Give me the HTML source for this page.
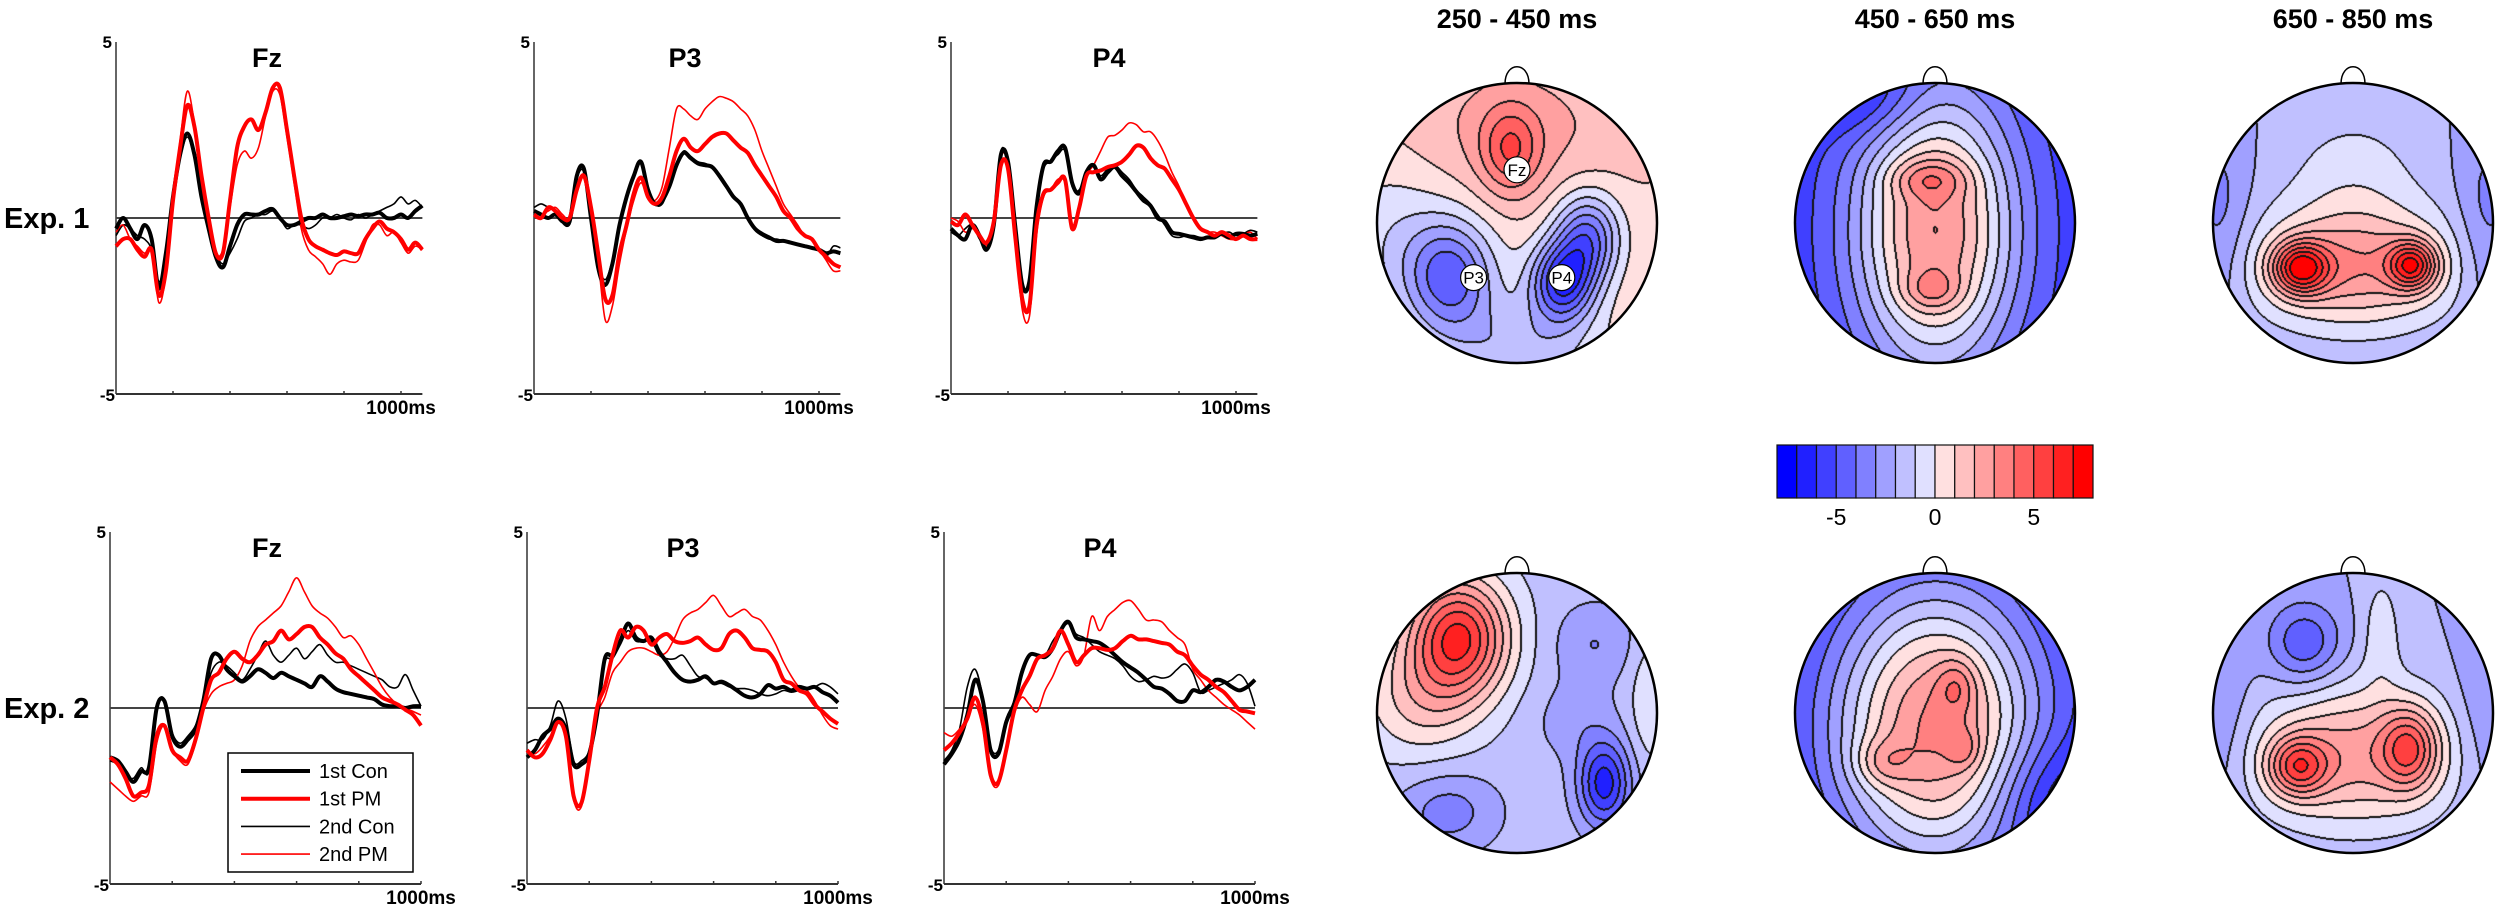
<!DOCTYPE html>
<html><head><meta charset="utf-8">
<style>
html,body{margin:0;padding:0;background:#fff;}
#wrap{position:relative;width:2500px;height:907px;overflow:hidden;background:#fff;}
svg{position:absolute;left:0;top:0;}
canvas{position:absolute;}
.t{font-family:"Liberation Sans Narrow","Liberation Sans",sans-serif;font-weight:bold;fill:#000;}
</style></head>
<body>
<div id="wrap">
<svg id="erp" width="2500" height="907"></svg>
</div>
<script>
// ---------- ERP data (µV), sampled every 25 ms ----------
const timesTop = [];  for (let t = 0; t <= 1075; t += 25) timesTop.push(t);
const timesBot = [];  for (let t = 0; t <= 1000; t += 25) timesBot.push(t);

const fzTopCon1 = [-0.3,0.0,-0.3,-0.6,-0.2,-0.6,-2.0,-1.0,0.6,1.8,2.4,1.8,0.6,-0.3,-1.1,-1.4,-0.8,-0.2,0.1,0.1,0.1,0.2,0.25,0.0,-0.2,-0.2,-0.1,0.0,0.0,0.1,0.0,0.0,0.05,0.1,0.05,0.1,0.1,0.15,0.0,0.0,0.1,0.0,0.2,0.35];
const fzTopCon2 = [-0.5,-0.2,-0.3,-0.5,-0.6,-0.9,-1.8,-1.2,0.5,1.7,2.3,1.7,0.5,-0.3,-1.0,-1.3,-1.0,-0.6,-0.1,0.0,0.1,0.1,0.2,0.0,-0.3,-0.2,-0.2,-0.3,-0.2,0.0,0.0,0.1,0.0,-0.05,0.1,0.0,0.1,0.2,0.3,0.4,0.6,0.4,0.5,0.3];
const fzTopPM1 = [-0.8,-0.6,-0.6,-0.9,-1.1,-0.9,-2.2,-1.5,0.5,2.0,3.2,2.6,1.2,0.0,-1.0,-1.0,0.5,2.0,2.6,2.8,2.5,3.0,3.7,3.7,2.5,1.2,0.0,-0.6,-0.8,-0.9,-1.0,-1.05,-0.95,-1.0,-1.0,-0.6,-0.3,-0.1,-0.3,-0.4,-0.6,-0.9,-0.7,-0.9];
const fzTopPM2 = [-0.4,-0.2,-0.6,-0.8,-1.0,-0.9,-2.4,-1.6,0.6,2.2,3.6,2.7,1.2,0.0,-1.0,-0.9,0.3,1.5,1.9,1.7,2.0,2.9,3.6,3.5,2.3,1.0,-0.3,-0.9,-1.1,-1.3,-1.6,-1.3,-1.2,-1.25,-1.2,-0.7,-0.2,-0.2,-0.5,-0.4,-0.7,-1.0,-0.8,-0.9];

const p3TopCon1 = [0.2,0.1,0.0,0.1,-0.1,-0.1,1.2,1.4,0.0,-1.4,-1.9,-1.3,-0.2,0.6,1.2,1.6,0.8,0.4,0.5,0.9,1.5,1.85,1.7,1.55,1.5,1.45,1.2,0.9,0.6,0.4,0.0,-0.3,-0.45,-0.55,-0.65,-0.65,-0.7,-0.75,-0.8,-0.85,-0.9,-1.0,-0.95,-1.0];
const p3TopCon2 = [0.3,0.4,0.3,0.2,0.0,-0.1,1.1,1.3,0.0,-1.3,-1.75,-1.2,-0.2,0.6,1.2,1.6,0.9,0.4,0.4,0.9,1.5,1.9,1.75,1.6,1.55,1.45,1.25,0.95,0.6,0.35,0.0,-0.35,-0.5,-0.6,-0.6,-0.65,-0.7,-0.75,-0.8,-0.85,-0.9,-1.1,-0.8,-0.85];
const p3TopPM1 = [0.1,0.0,0.3,0.2,0.0,0.0,0.8,1.2,0.3,-1.0,-2.3,-2.2,-1.0,-0.2,0.7,1.15,0.6,0.4,0.6,1.2,1.9,2.25,2.0,1.9,2.1,2.3,2.4,2.4,2.2,2.0,1.85,1.5,1.2,0.9,0.6,0.2,0.0,-0.3,-0.5,-0.6,-0.9,-1.1,-1.3,-1.4];
const p3TopPM2 = [0.2,0.1,0.2,0.3,0.1,0.0,0.9,1.2,0.2,-1.2,-2.9,-2.5,-1.3,-0.3,0.5,1.0,0.6,0.5,0.9,2.0,3.1,3.1,2.9,2.8,3.1,3.3,3.45,3.4,3.3,3.1,2.9,2.5,1.9,1.4,0.9,0.4,0.1,-0.2,-0.5,-0.6,-0.9,-1.2,-1.5,-1.5];

const p4TopCon1 = [-0.3,-0.5,-0.6,-0.2,-0.5,-0.9,-0.2,1.8,1.6,-0.2,-1.9,-1.8,0.3,1.5,1.6,1.9,2.0,1.0,0.7,1.3,1.5,1.1,1.3,1.45,1.2,1.0,0.75,0.5,0.35,0.0,-0.1,-0.4,-0.45,-0.5,-0.55,-0.6,-0.55,-0.55,-0.45,-0.55,-0.45,-0.45,-0.5,-0.45];
const p4TopCon2 = [-0.4,-0.5,-0.3,-0.2,-0.6,-0.8,-0.1,1.9,1.5,-0.3,-1.9,-1.7,0.3,1.4,1.6,1.8,1.9,0.9,0.8,1.3,1.5,1.2,1.4,1.5,1.3,1.1,0.8,0.6,0.4,0.1,-0.2,-0.5,-0.55,-0.5,-0.5,-0.55,-0.55,-0.5,-0.45,-0.4,-0.5,-0.45,-0.35,-0.4];
const p4TopPM1 = [-0.1,-0.2,0.1,-0.2,-0.5,-0.7,-0.1,1.5,1.4,-0.5,-2.3,-2.5,-0.2,0.7,0.8,1.0,1.1,-0.3,0.3,1.2,1.3,1.35,1.45,1.5,1.6,1.8,2.05,2.0,1.7,1.5,1.4,1.1,0.8,0.4,0.0,-0.3,-0.4,-0.5,-0.4,-0.5,-0.6,-0.5,-0.6,-0.6];
const p4TopPM2 = [0.0,-0.1,-0.4,-0.3,-0.5,-0.8,-0.2,1.7,1.5,-0.6,-2.6,-2.8,-0.5,0.6,0.8,1.1,1.0,-0.2,0.4,1.2,1.5,1.9,2.3,2.35,2.5,2.7,2.65,2.45,2.45,2.2,1.8,1.3,0.9,0.4,0.0,-0.3,-0.4,-0.4,-0.5,-0.6,-0.6,-0.5,-0.4,-0.6];

const fzBotCon1 = [-1.4,-1.5,-1.8,-2.1,-1.8,-1.7,0.0,0.2,-0.8,-1.1,-0.9,-0.6,0.2,1.4,1.5,1.1,0.9,0.75,0.9,1.1,1.0,0.85,1.0,0.9,0.8,0.7,0.6,0.9,0.75,0.55,0.45,0.4,0.35,0.3,0.25,0.1,0.05,0.05,0.0,0.05,0.05];
const fzBotCon2 = [-1.5,-1.6,-1.9,-2.0,-1.7,-1.8,0.0,0.25,-0.7,-1.0,-0.8,-0.5,0.1,1.0,1.3,1.2,1.0,0.8,1.1,1.5,1.9,1.5,1.3,1.5,1.7,1.4,1.6,1.8,1.5,1.3,1.3,1.2,1.1,1.0,0.9,0.8,0.6,0.6,0.95,0.5,0.05];
const fzBotPM1 = [-1.4,-1.6,-2.0,-2.5,-2.4,-2.2,-0.8,-0.5,-1.2,-1.4,-1.5,-0.9,0.0,0.8,1.0,1.4,1.6,1.4,1.3,1.5,1.8,1.9,2.2,1.95,2.1,2.3,2.3,2.0,1.8,1.55,1.4,1.1,0.9,0.7,0.5,0.3,0.2,0.1,-0.05,-0.2,-0.5];
const fzBotPM2 = [-2.1,-2.3,-2.5,-2.65,-2.5,-2.4,-1.0,-0.5,-1.2,-1.5,-1.6,-1.0,-0.1,0.4,0.6,0.7,0.8,1.2,1.9,2.3,2.5,2.7,2.9,3.3,3.7,3.3,2.9,2.7,2.55,2.3,2.0,2.05,1.8,1.4,1.0,0.6,0.3,0.1,0.0,-0.1,-0.2];

const p3BotCon1 = [-1.4,-1.2,-0.8,-0.6,-0.3,-0.6,-1.6,-1.6,-1.3,-0.2,1.4,1.5,1.9,2.4,2.0,1.9,2.0,1.6,1.3,1.0,0.8,0.75,0.8,0.9,0.7,0.75,0.65,0.5,0.35,0.3,0.4,0.65,0.55,0.6,0.5,0.6,0.55,0.6,0.45,0.35,0.15];
const p3BotCon2 = [-1.0,-0.9,-0.9,-0.5,0.2,-0.3,-1.5,-1.5,-1.2,-0.1,1.3,1.4,1.8,2.2,1.9,1.9,1.9,1.5,1.4,1.4,1.5,1.2,0.9,0.85,0.7,0.7,0.6,0.55,0.55,0.5,0.4,0.35,0.4,0.5,0.45,0.5,0.55,0.6,0.7,0.6,0.4];
const p3BotPM1 = [-1.2,-1.4,-1.3,-0.9,-0.4,-0.8,-2.5,-2.7,-1.5,0.0,0.6,1.5,2.2,2.0,2.3,2.2,1.8,2.0,2.1,1.9,1.85,1.9,2.0,1.8,1.65,1.7,2.1,2.2,2.0,1.7,1.65,1.6,1.3,0.8,0.7,0.5,0.4,0.1,-0.1,-0.3,-0.45];
const p3BotPM2 = [-1.2,-1.3,-1.1,-0.8,-0.4,-0.9,-2.6,-2.8,-1.5,-0.2,0.3,1.0,1.3,1.6,1.7,1.7,1.6,1.5,1.6,2.0,2.5,2.7,2.8,3.0,3.2,2.9,2.6,2.7,2.8,2.6,2.5,2.2,1.8,1.3,0.9,0.6,0.5,0.2,-0.2,-0.5,-0.6];

const p4BotCon1 = [-1.6,-1.3,-0.9,-0.2,0.8,0.2,-1.2,-1.3,-0.4,0.1,1.0,1.5,1.5,1.45,1.7,2.2,2.45,2.0,1.95,1.9,1.85,1.7,1.5,1.3,1.15,1.0,0.8,0.6,0.55,0.4,0.2,0.2,0.5,0.45,0.6,0.8,0.75,0.6,0.5,0.6,0.8];
const p4BotCon2 = [-1.5,-1.2,-0.6,0.6,1.1,0.3,-1.1,-1.2,-0.3,0.2,1.1,1.5,1.5,1.5,1.9,2.2,2.4,2.1,2.0,1.8,1.6,1.5,1.4,1.2,0.9,0.75,0.8,0.9,0.85,0.9,1.1,1.25,1.0,0.45,0.5,0.6,0.7,0.8,0.95,0.7,0.05];
const p4BotPM1 = [-1.2,-1.0,-0.7,-0.3,0.3,-0.4,-1.9,-2.1,-1.2,-0.1,0.5,0.9,1.4,1.5,1.7,2.2,1.8,1.3,1.5,1.7,1.7,1.65,1.7,1.9,2.05,1.95,1.95,1.9,1.85,1.8,1.6,1.5,1.2,0.95,0.8,0.6,0.45,0.2,-0.05,-0.1,-0.15];
const p4BotPM2 = [-0.7,-0.8,-0.6,-0.3,0.1,-0.6,-2.0,-2.2,-1.3,-0.2,0.3,0.1,-0.1,0.5,0.9,1.4,1.6,1.2,1.5,2.6,2.2,2.6,2.8,3.0,3.05,2.8,2.5,2.5,2.45,2.2,2.0,1.8,1.1,0.8,0.5,0.3,0.1,-0.05,-0.2,-0.4,-0.6];

const yTickLabels = ["5", "-5"];
const xTickLabel = "1000ms";
const legendLabels = ["1st Con", "1st PM", "2nd Con", "2nd PM"];

// ---------- topomap data: Gaussian source models (µV) ----------
const mapTitles = ["250 - 450 ms", "450 - 650 ms", "650 - 850 ms"];
const mapBase = [0.8, -6.0, -2.0, -1.5, -6.8, -2.0];
const srcU   = [[0,-0.05,-0.48,0.32,0.5,0,-0.9],[0,-0.05,-0.03,-0.5],[0,-0.38,0.42,0,-0.95,0.95],[-0.42,-0.7,0.62,0.55,-0.5,0.4,0.95],[0,0.15,0.2,-0.38,0.8],[0,-0.4,0.4,-0.35,0.2,-0.95,0.95]];
const srcV   = [[-0.7,-0.52,0.38,0.42,0.1,0.9,0.1],[0.05,-0.32,0.48,-0.9],[0.3,0.32,0.3,-0.4,0,0],[-0.55,-0.1,0.5,-0.5,0.7,0.05,-0.1],[0.1,-0.2,0.25,0.35,0.6],[0.3,0.38,0.25,-0.5,-0.6,0,0]];
const srcAmp = [[1.5,3.2,-5.2,-6.5,-5.0,-2.5,-1.5],[9.0,2.2,2.0,-2.0],[5.0,6.5,6.0,1.3,-1.5,-1.5],[7.5,2.5,-5.0,-1.5,-2.0,-1.0,1.5],[10.0,2.0,1.6,2.0,-2.0],[4.5,5.0,4.5,-3.0,1.5,-1.2,-1.2]];
const srcSU  = [[0.6,0.15,0.22,0.16,0.16,0.4,0.3],[0.42,0.2,0.15,0.3],[0.5,0.14,0.12,0.35,0.15,0.15],[0.25,0.3,0.13,0.2,0.25,0.2,0.1],[0.55,0.1,0.08,0.14,0.3],[0.5,0.15,0.14,0.18,0.1,0.15,0.15]];
const srcSV  = [[0.35,0.22,0.28,0.2,0.22,0.25,0.4],[0.75,0.1,0.1,0.2],[0.3,0.13,0.12,0.3,0.5,0.5],[0.3,0.3,0.22,0.2,0.2,0.2,0.3],[0.75,0.14,0.1,0.12,0.3],[0.35,0.15,0.2,0.2,0.3,0.5,0.5]];
const cbLevels = [-8,-7,-6,-5,-4,-3,-2,-1,0,1,2,3,4,5,6,7];
const cbColors = ["#0000ff","#2020ff","#4040ff","#6060ff","#8080ff","#a0a0ff","#c0c0ff","#e0e0ff","#ffe0e0","#ffc0c0","#ffa0a0","#ff8080","#ff6060","#ff4040","#ff2020","#ff0000"];
const cbTickLabels = ["-5", "0", "5"];
const cbTickValues = [-5, 0, 5];

// ---------- drawing ----------
const NS = "http://www.w3.org/2000/svg";
const svg = document.getElementById('erp');
function mk(tag, attrs, parent) {
  const e = document.createElementNS(NS, tag);
  for (const k in attrs) e.setAttribute(k, attrs[k]);
  (parent || svg).appendChild(e);
  return e;
}
function txt(x, y, s, size, anchor, parent, cls) {
  const e = mk('text', {x: x, y: y, 'font-size': size, 'text-anchor': anchor || 'middle', 'class': cls || 't'}, parent);
  e.textContent = s;
  return e;
}

const panels = [
  {name:'fz-exp1', x0:116, y0:218, k:0.285, tEnd:1075, title:'Fz', tx:267, ty:67, times:timesTop, s:[fzTopCon2,fzTopPM2,fzTopCon1,fzTopPM1]},
  {name:'p3-exp1', x0:534, y0:218, k:0.285, tEnd:1075, title:'P3', tx:685, ty:67, times:timesTop, s:[p3TopCon2,p3TopPM2,p3TopCon1,p3TopPM1]},
  {name:'p4-exp1', x0:951, y0:218, k:0.285, tEnd:1075, title:'P4', tx:1109, ty:67, times:timesTop, s:[p4TopCon2,p4TopPM2,p4TopCon1,p4TopPM1]},
  {name:'fz-exp2', x0:110, y0:708, k:0.311, tEnd:1000, title:'Fz', tx:267, ty:557, times:timesBot, s:[fzBotCon2,fzBotPM2,fzBotCon1,fzBotPM1]},
  {name:'p3-exp2', x0:527, y0:708, k:0.311, tEnd:1000, title:'P3', tx:683, ty:557, times:timesBot, s:[p3BotCon2,p3BotPM2,p3BotCon1,p3BotPM1]},
  {name:'p4-exp2', x0:944, y0:708, k:0.311, tEnd:1000, title:'P4', tx:1100, ty:557, times:timesBot, s:[p4BotCon2,p4BotPM2,p4BotCon1,p4BotPM1]}
];
const seriesStyle = [
  {c:'#000', w:1.6, n:'2nd-con'}, {c:'#ff0000', w:1.6, n:'2nd-pm'},
  {c:'#000', w:4, n:'1st-con'}, {c:'#ff0000', w:4, n:'1st-pm'}
];
const UVPX = 35.2;

function smoothPath(pts) {
  let d = 'M' + pts[0][0].toFixed(1) + ',' + pts[0][1].toFixed(1);
  for (let i = 0; i < pts.length - 1; i++) {
    const p0 = pts[Math.max(0, i - 1)], p1 = pts[i], p2 = pts[i + 1], p3 = pts[Math.min(pts.length - 1, i + 2)];
    const c1x = p1[0] + (p2[0] - p0[0]) / 6, c1y = p1[1] + (p2[1] - p0[1]) / 6;
    const c2x = p2[0] - (p3[0] - p1[0]) / 6, c2y = p2[1] - (p3[1] - p1[1]) / 6;
    d += 'C' + c1x.toFixed(1) + ',' + c1y.toFixed(1) + ' ' + c2x.toFixed(1) + ',' + c2y.toFixed(1) + ' ' + p2[0].toFixed(1) + ',' + p2[1].toFixed(1);
  }
  return d;
}

panels.forEach(p => {
  const g = mk('g', {});
  
  
  const xS = t => p.x0 + t * p.k;
  const yS = v => p.y0 - v * UVPX;
  const xEnd = xS(p.tEnd);
  const yTop = yS(5), yBot = yS(-5);
  const ya = mk('line', {x1:p.x0, y1:yTop, x2:p.x0, y2:yBot, stroke:'#333', 'stroke-width':1.5}, g);
  
  
  const xa = mk('line', {x1:p.x0, y1:yBot, x2:xEnd, y2:yBot, stroke:'#333', 'stroke-width':2}, g);
  
  
  for (let t = 200; t <= 1000; t += 200) {
    const tk = mk('line', {x1:xS(t), y1:yBot - 3, x2:xS(t), y2:yBot, stroke:'#333', 'stroke-width':1.5}, g);
    
    
  }
  const zl = mk('line', {x1:p.x0, y1:p.y0, x2:xEnd, y2:p.y0, stroke:'#444', 'stroke-width':2}, g);
  
  
  const l5 = txt(p.x0 - 4, yTop + 6, yTickLabels[0], 17, 'end', g);
  
  
  const lm5 = txt(p.x0 - 1, yBot + 7, yTickLabels[1], 17, 'end', g);
  
  
  const lx = txt(xS(1000), yBot + 20, xTickLabel, 19, 'middle', g);
  
  
  const tt = txt(p.tx, p.ty, p.title, 27, 'middle', g);
  
  
  p.s.forEach((arr, si) => {
    const st = seriesStyle[si];
    const pts = arr.map((v, i) => [xS(p.times[i]), yS(v)]);
    const path = mk('path', {d: smoothPath(pts), fill:'none', stroke:st.c, 'stroke-width':st.w, 'stroke-linejoin':'round'}, g);
    
    
  });
});

// row labels
const r1 = txt(4, 228, 'Exp. 1', 29, 'start');
r1.setAttribute('style', 'font-family:"Liberation Sans",sans-serif;font-weight:bold;');


const r2 = txt(4, 718, 'Exp. 2', 29, 'start');
r2.setAttribute('style', 'font-family:"Liberation Sans",sans-serif;font-weight:bold;');



// legend
const lg = mk('g', {});


mk('rect', {x:228, y:753, width:185, height:119, fill:'#fff', stroke:'#000', 'stroke-width':1.5}, lg);
const legStyles = [seriesStyle[2], seriesStyle[3], seriesStyle[0], seriesStyle[1]];
legendLabels.forEach((lab, i) => {
  const y = 771 + i * 27.7;
  const ln = mk('line', {x1:241, y1:y, x2:310, y2:y, stroke:legStyles[i].c, 'stroke-width':legStyles[i].w}, lg);
  
  
  const t = txt(319, y + 7, lab, 20, 'start', lg);
  t.setAttribute('style', 'font-family:"Liberation Sans",sans-serif;font-weight:normal;');
  
  
});

// ---------- topomaps ----------
const wrap = document.getElementById('wrap');
const mapCx = [1517, 1935, 2353, 1517, 1935, 2353];
const mapCy = [223, 223, 223, 713, 713, 713];
const R = 140;
function field(m, u, v) {
  let f = mapBase[m];
  for (let j = 0; j < srcU[m].length; j++) {
    const du = u - srcU[m][j], dv = v - srcV[m][j];
    f += srcAmp[m][j] * Math.exp(-(du * du / (2 * srcSU[m][j] * srcSU[m][j]) + dv * dv / (2 * srcSV[m][j] * srcSV[m][j])));
  }
  return f;
}
function hexRGB(h) { return [parseInt(h.substr(1,2),16), parseInt(h.substr(3,2),16), parseInt(h.substr(5,2),16)]; }
const rgbLevels = cbColors.map(hexRGB);
for (let m = 0; m < 6; m++) {
  const cv = document.createElement('canvas');
  const S = 2 * R + 2;
  cv.width = S; cv.height = S;
  cv.style.left = (mapCx[m] - R - 1) + 'px';
  cv.style.top = (mapCy[m] - R - 1) + 'px';
  
  
  wrap.appendChild(cv);
  const ctx = cv.getContext('2d');
  const img = ctx.createImageData(S, S);
  const L = new Int16Array(S * S).fill(-1);
  for (let y = 0; y < S; y++) for (let x = 0; x < S; x++) {
    const u = (x - R - 1) / R, v = (y - R - 1) / R;
    if (u * u + v * v > 1.0) continue;
    const f = field(m, u, v);
    L[y * S + x] = Math.max(0, Math.min(15, Math.floor(f) + 8));
  }
  for (let y = 0; y < S; y++) for (let x = 0; x < S; x++) {
    const l = L[y * S + x];
    if (l < 0) continue;
    let edge = false;
    const nb = [[1,0],[0,1],[-1,0],[0,-1]];
    for (const [dx, dy] of nb) {
      const xx = x + dx, yy = y + dy;
      if (xx < 0 || yy < 0 || xx >= S || yy >= S) continue;
      const l2 = L[yy * S + xx];
      if (l2 >= 0 && l2 !== l) { edge = true; break; }
    }
    const i = (y * S + x) * 4;
    if (edge) { img.data[i] = 20; img.data[i+1] = 20; img.data[i+2] = 20; }
    else { const c = rgbLevels[l]; img.data[i] = c[0]; img.data[i+1] = c[1]; img.data[i+2] = c[2]; }
    img.data[i+3] = 255;
  }
  ctx.putImageData(img, 0, 0);
}
// outlines and noses (svg above canvases)
const svg2 = document.createElementNS(NS, 'svg');
svg2.setAttribute('width', 2500); svg2.setAttribute('height', 907);
svg2.setAttribute('style', 'position:absolute;left:0;top:0;');


wrap.appendChild(svg2);
for (let m = 0; m < 6; m++) {
  const cx = mapCx[m], cy = mapCy[m];
  const nose = mk('path', {d:'M' + (cx - 12) + ',' + (cy - R + 1) + ' C' + (cx - 12) + ',' + (cy - R - 22) + ' ' + (cx + 12) + ',' + (cy - R - 22) + ' ' + (cx + 12) + ',' + (cy - R + 1), fill:'#fff', stroke:'#000', 'stroke-width':1.5}, svg2);
  
  
  const head = mk('circle', {cx:cx, cy:cy, r:R, fill:'none', stroke:'#000', 'stroke-width':2.5}, svg2);
  
  
}
const mt = [0, 1, 2];
mt.forEach(i => {
  const t = txt(mapCx[i], 28, mapTitles[i], 27, 'middle', svg2);
  
  
});
// electrode markers
const elecNames = ["Fz", "P3", "P4"];
const elecU = [0, -0.31, 0.32];
const elecV = [-0.38, 0.39, 0.39];
elecNames.forEach((n, i) => {
  const x = mapCx[0] + elecU[i] * R, y = mapCy[0] + elecV[i] * R;
  const g = mk('g', {}, svg2);
  
  
  mk('circle', {cx:x, cy:y, r:13, fill:'#fff', stroke:'#000', 'stroke-width':1.2}, g);
  const t = txt(x, y + 6, n, 17, 'middle', g);
  t.setAttribute('style', 'font-family:"Liberation Sans",sans-serif;font-weight:normal;');
});

// colorbar
const cbX0 = 1777, cbX1 = 2093, cbY = 445, cbH = 53;
const cbW = (cbX1 - cbX0) / cbLevels.length;
const cbG = mk('g', {}, svg2);


const cbx = v => cbX0 + (v - cbLevels[0]) * cbW;
cbLevels.forEach((lv, i) => {
  const r = mk('rect', {x:cbx(lv), y:cbY, width:cbW, height:cbH, fill:cbColors[i], stroke:'#111', 'stroke-width':1.2}, cbG);
  
  
});
cbTickValues.forEach((v, i) => {
  const t = txt(cbx(v), cbY + cbH + 27, cbTickLabels[i], 23, 'middle', cbG);
  t.setAttribute('style', 'font-family:"Liberation Sans",sans-serif;font-weight:normal;');
  
  
});
</script>
</body></html>
